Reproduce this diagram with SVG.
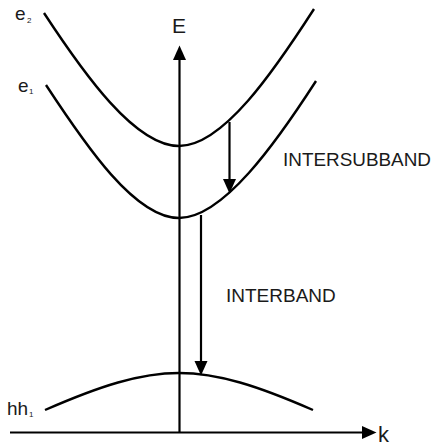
<svg xmlns="http://www.w3.org/2000/svg" width="434" height="448" viewBox="0 0 434 448">
  <style>
    .band { fill: none; stroke: #000; stroke-width: 2.4; stroke-linecap: butt; }
    .arrow { fill: none; stroke: #000; stroke-width: 2.2; }
    .lbl { font-family: "Liberation Sans", Arial, sans-serif; fill: #1a1a1a; }
  </style>
  <defs>
    <marker id="head" markerUnits="userSpaceOnUse" markerWidth="15" markerHeight="14" refX="0" refY="6.5" orient="auto">
      <path d="M0,0 L14.5,6.5 L0,13 z" fill="#000"/>
    </marker>
  </defs>
  <rect width="434" height="448" fill="#fff"/>

  <g id="e2">
    <path class="band" d="M44,13 C84,74 135,146 179,146 C223,146 274,71 314,9"/>
    <text class="lbl" x="15" y="20" font-size="19">e</text>
    <text class="lbl" x="27" y="23" font-size="8">2</text>
  </g>
  <g id="e1">
    <path class="band" d="M46,85 C86,146 135,218 179,218 C223,218 276,143 316,81"/>
    <text class="lbl" x="18" y="92" font-size="19">e</text>
    <text class="lbl" x="29" y="94" font-size="8">1</text>
  </g>
  <g id="hh1">
    <path class="band" d="M45,410 C100,386 140,373 179,373 C218,373 258,386 313,410"/>
    <text class="lbl" x="7" y="415" font-size="19">hh</text>
    <text class="lbl" x="29" y="417" font-size="8">1</text>
  </g>
  <g id="axis-E">
    <text class="lbl" x="172" y="33" font-size="21">E</text>
  </g>
  <g id="axis-k">
    <text class="lbl" x="378" y="442" font-size="22">k</text>
  </g>
  <g id="label-intersubband">
    <text class="lbl" x="283" y="166" font-size="18.5" textLength="148" lengthAdjust="spacingAndGlyphs">INTERSUBBAND</text>
  </g>
  <g id="label-interband">
    <text class="lbl" x="226" y="302" font-size="19">INTERBAND</text>
  </g>

  <g id="connectors">
    <line class="arrow" x1="179.5" y1="433" x2="179.5" y2="60" marker-end="url(#head)"/>
    <line class="arrow" x1="10" y1="432.5" x2="362" y2="432.5" marker-end="url(#head)"/>
    <line class="arrow" x1="229.5" y1="122" x2="229.5" y2="179" marker-end="url(#head)"/>
    <line class="arrow" x1="201" y1="215" x2="201" y2="361" marker-end="url(#head)"/>
  </g>
</svg>
